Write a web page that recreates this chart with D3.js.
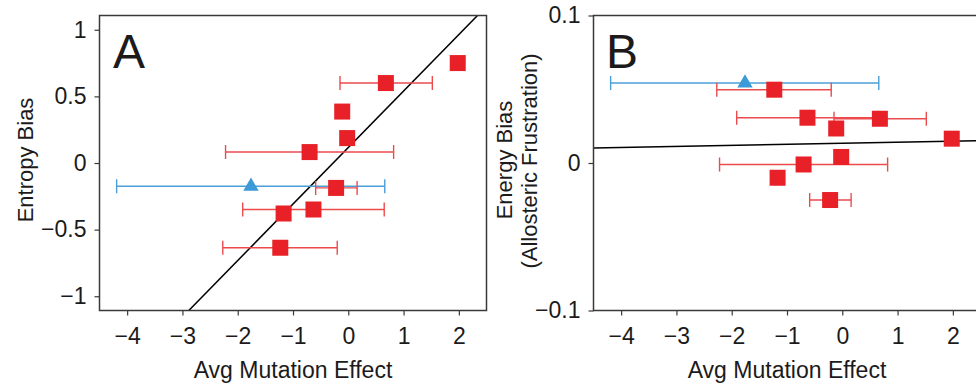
<!DOCTYPE html>
<html>
<head>
<meta charset="utf-8">
<script src="https://cdn.jsdelivr.net/npm/d3@7"></script>
<style>
  body { margin: 0; background: #fff; }
  text { font-family: "Liberation Sans", Arial, sans-serif; fill: #1c1a1a; }
</style>
</head>
<body>
<svg id="chart" width="976" height="388"></svg>
<script>
// avg mutation effect per variant (shared by both panels), with its range
const mutationEffect = [1.98, 0.68, -0.11, -0.02, -0.70, -1.76, -0.22, -0.63, -1.17, -1.23];
const effectLow      = [null, -0.15, null, null, -2.22, -4.19, -0.59, -1.91, null, -2.27];
const effectHigh     = [null, 1.52, null, null, 0.82, 0.66, 0.16, 0.65, null, -0.20];
const isReference    = [false, false, false, false, false, true, false, false, false, false];

const entropyBias = [0.75, 0.60, 0.386, 0.187, 0.082, -0.175, -0.187, -0.349, -0.379, -0.636];
const energyBias  = [0.0165, 0.030, 0.0234, 0.0041, -0.001, 0.0542, -0.0251, 0.0307, -0.010, 0.0497];

const xTicks = [-4, -3, -2, -1, 0, 1, 2];
const entropyTicks = [1, 0.5, 0, -0.5, -1];
const energyTicks = [0.1, 0, -0.1];

// fitted lines: [intercept, slope]
const entropyFit = [0.116, 0.424];
const energyFit = [0.0134, 0.0007];

const svg = d3.select('#chart');
const fmt = d => String(d).replace('-', '\u2212');

function drawPanel(opt) {
  const x = d3.scaleLinear().domain([-4.5, 2.5]).range([opt.left, opt.right]);
  const y = d3.scaleLinear().domain(opt.yDomain).range([310.5, 15.5]);
  const g = svg.append('g');

  const clipId = 'clip-' + opt.name;
  g.append('clipPath').attr('id', clipId)
    .append('rect')
    .attr('x', x.range()[0]).attr('y', 15.5)
    .attr('width', x.range()[1] - x.range()[0]).attr('height', 295);

  const xAxis = g.append('g').attr('transform', 'translate(0,310.5)')
    .call(d3.axisBottom(x).tickValues(xTicks).tickFormat(fmt).tickSize(5).tickPadding(12));
  const yAxis = g.append('g').attr('transform', 'translate(' + opt.left + ',0)')
    .call(d3.axisLeft(y).tickValues(opt.ticks).tickFormat(fmt).tickSize(5).tickPadding(8));
  [xAxis, yAxis].forEach(a => {
    a.select('.domain').remove();
    a.selectAll('line').attr('stroke', '#3a3a3a').attr('stroke-width', 1.2);
    a.selectAll('text').attr('font-size', 23).attr('fill', '#1c1a1a');
  });

  const plot = g.append('g').attr('clip-path', 'url(#' + clipId + ')');

  // fit line
  const xd = x.domain();
  plot.append('line')
    .attr('x1', x(xd[0])).attr('y1', y(opt.fit[0] + opt.fit[1] * xd[0]))
    .attr('x2', x(xd[1])).attr('y2', y(opt.fit[0] + opt.fit[1] * xd[1]))
    .attr('stroke', '#000').attr('stroke-width', 1.5);

  const idx = d3.range(mutationEffect.length);
  const withBars = idx.filter(i => effectLow[i] !== null);
  const colorBar = i => isReference[i] ? '#4a9fd8' : '#ec4b4e';

  const bars = plot.selectAll('.err').data(withBars).enter().append('g')
    .attr('stroke', colorBar).attr('stroke-width', 1.4);
  bars.append('line')
    .attr('x1', i => x(effectLow[i])).attr('x2', i => x(effectHigh[i]))
    .attr('y1', i => y(opt.values[i])).attr('y2', i => y(opt.values[i]));
  bars.append('line')
    .attr('x1', i => x(effectLow[i])).attr('x2', i => x(effectLow[i]))
    .attr('y1', i => y(opt.values[i]) - 7).attr('y2', i => y(opt.values[i]) + 7);
  bars.append('line')
    .attr('x1', i => x(effectHigh[i])).attr('x2', i => x(effectHigh[i]))
    .attr('y1', i => y(opt.values[i]) - 7).attr('y2', i => y(opt.values[i]) + 7);

  plot.selectAll('.sq').data(idx.filter(i => !isReference[i])).enter().append('rect')
    .attr('x', i => x(mutationEffect[i]) - 8).attr('y', i => y(opt.values[i]) - 8)
    .attr('width', 16).attr('height', 16)
    .attr('fill', '#e82128');

  plot.selectAll('.tri').data(idx.filter(i => isReference[i])).enter().append('path')
    .attr('d', d3.symbol(d3.symbolTriangle).size(102))
    .attr('transform', i => 'translate(' + x(mutationEffect[i]) + ',' + y(opt.values[i]) + ')')
    .attr('fill', '#3d9ad8');

  // frame
  g.append('rect')
    .attr('x', opt.left).attr('y', 15.5)
    .attr('width', opt.right - opt.left).attr('height', 295)
    .attr('fill', 'none').attr('stroke', '#3a3a3a').attr('stroke-width', 1.5);

  g.append('text')
    .attr('x', (opt.left + opt.right) / 2).attr('y', 378)
    .attr('text-anchor', 'middle').attr('font-size', 23)
    .text('Avg Mutation Effect');

  g.append('text')
    .attr('x', opt.letterX).attr('y', 68)
    .attr('font-size', 48)
    .text(opt.letter);

  opt.yTitle.forEach(t => {
    g.append('text')
      .attr('transform', 'translate(' + t.x + ',' + t.y + ') rotate(-90)')
      .attr('text-anchor', 'middle').attr('font-size', 22)
      .text(t.text);
  });
}

drawPanel({
  name: 'a', left: 99.5, right: 486.5, yDomain: [-1.107, 1.107],
  ticks: entropyTicks, values: entropyBias, fit: entropyFit,
  letter: 'A', letterX: 113,
  yTitle: [{ text: 'Entropy Bias', x: 33, y: 160 }]
});

drawPanel({
  name: 'b', left: 593.5, right: 980.5, yDomain: [-0.1, 0.1],
  ticks: energyTicks, values: energyBias, fit: energyFit,
  letter: 'B', letterX: 606,
  yTitle: [
    { text: 'Energy Bias', x: 512, y: 160 },
    { text: '(Allosteric Frustration)', x: 537, y: 161 }
  ]
});
</script>
</body>
</html>
